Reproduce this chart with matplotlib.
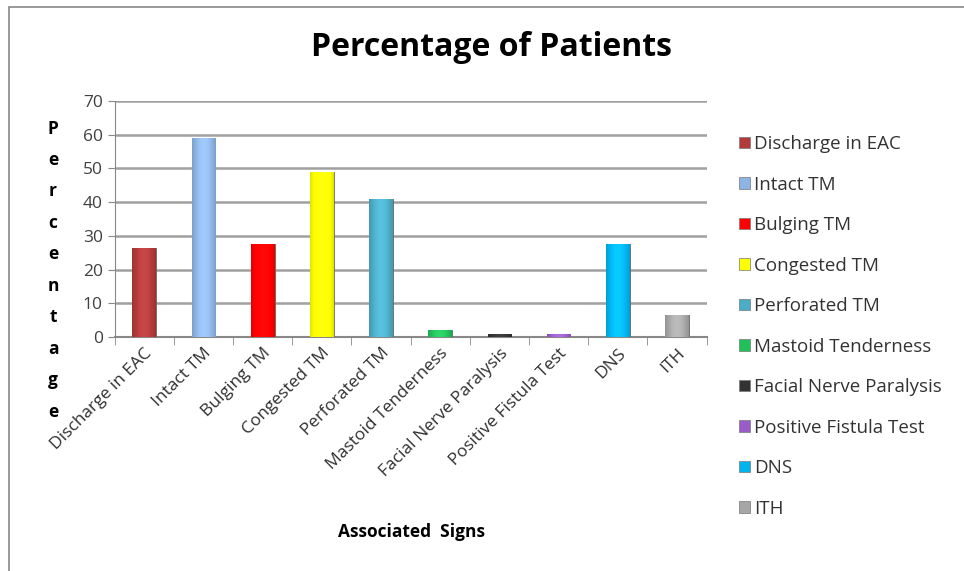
import numpy as np
import matplotlib.pyplot as plt
from matplotlib.colors import to_rgb
from matplotlib.patches import Rectangle, Patch

signs = ['Discharge in EAC', 'Intact TM', 'Bulging TM', 'Congested TM', 'Perforated TM',
         'Mastoid Tenderness', 'Facial Nerve Paralysis', 'Positive Fistula Test', 'DNS', 'ITH']
percent = [26.5, 59, 27.5, 49, 41, 2, 1, 1, 27.5, 6.5]
colors = ['#B23A3A', '#8DB4E2', '#FF0000', '#FFFF00', '#4BACC6',
          '#22C05A', '#333333', '#9A5CC8', '#00B4F0', '#A6A6A6']

plt.rcParams['font.family'] = ['Open Sans', 'DejaVu Sans']

fig = plt.figure(figsize=(9.64, 5.71), dpi=100)
ax = fig.add_axes([0.119, 0.410, 0.614, 0.413])

x = range(len(signs))
bars = ax.bar(list(x), percent, width=0.40, color=colors, edgecolor='#666666',
              linewidth=0.6, zorder=3)

# cylinder-ish shading
t = np.linspace(0, 1, 60)
shade = 0.78 + 0.3 * np.sin(np.pi * (t * 0.9 + 0.05)) ** 0.6
for b, c in zip(bars, colors):
    rgb = np.array(to_rgb(c))
    grad = np.clip(rgb[None, :] * shade[:, None] + (shade[:, None] - 1).clip(0) * 0.4, 0, 1)
    im = ax.imshow(grad[None, :, :], extent=[b.get_x(), b.get_x() + b.get_width(), 0, b.get_height()],
                   aspect='auto', zorder=3.5)
    im.set_clip_path(b)

ax.set_ylim(0, 70)
ax.set_xlim(-0.5, len(signs) - 0.5)
ax.set_yticks(range(0, 71, 10))
ax.tick_params(axis='y', labelsize=12.5, length=5, color='#888888', labelcolor='#404040')
ax.set_xticks(list(x))
ax.set_xticklabels(signs, rotation=45, ha='right', rotation_mode='anchor', fontsize=12.5,
                   color='#303030')
ax.tick_params(axis='x', length=0, pad=6)
ax.set_xticks([i - 0.5 for i in range(len(signs) + 1)], minor=True)
ax.tick_params(axis='x', which='minor', length=6, color='#888888')
ax.grid(axis='y', color='#A0A0A0', linewidth=1.8, zorder=0)
for s in ['top', 'right']:
    ax.spines[s].set_visible(False)
ax.spines['left'].set_color('#888888')
ax.spines['bottom'].set_color('#888888')
ax.spines['bottom'].set_linewidth(1.5)

fig.text(0.51, 0.916, 'Percentage of Patients', ha='center', va='center',
         fontsize=23, fontweight='bold')
fig.text(0.427, 0.068, 'Associated  Signs', ha='center', va='center',
         fontsize=12.5, fontweight='bold')
fig.text(0.055, 0.527, '\n'.join('Percentage'), ha='center', va='center',
         fontsize=12.5, fontweight='bold', linespacing=1.96)

handles = [Patch(facecolor=c, edgecolor='#777777', linewidth=0.5) for c in colors]
fig.legend(handles, signs, loc='upper left', bbox_to_anchor=(0.749, 0.793),
           frameon=False, fontsize=13.5, handlelength=0.6, handleheight=0.6,
           handletextpad=0.2, labelspacing=1.2, labelcolor='#333333')

fig.patches.append(Rectangle((0.009, -0.01), 1.1, 0.998, transform=fig.transFigure,
                             fill=False, edgecolor='#888888', linewidth=1.2))

fig.savefig('out.png', dpi=100)
